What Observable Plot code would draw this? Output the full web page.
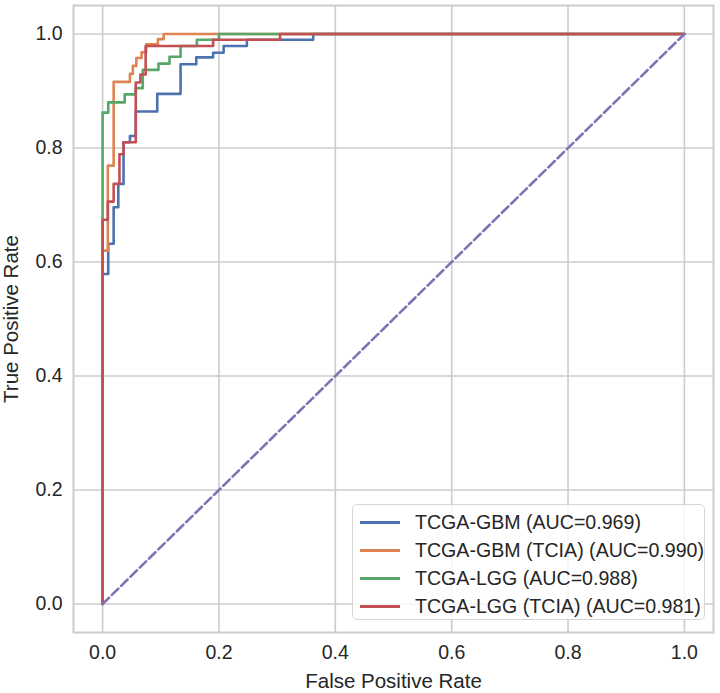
<!DOCTYPE html>
<html>
<head>
<meta charset="utf-8">
<script src="https://cdn.jsdelivr.net/npm/d3@7"></script>
<script src="https://cdn.jsdelivr.net/npm/@observablehq/plot@0.6"></script>
<style>
  html, body { margin: 0; padding: 0; background: #ffffff; }
  #wrap { position: relative; width: 720px; height: 693px; font-family: "Liberation Sans", Arial, sans-serif; }
  #legend {
    position: absolute; left: 352px; top: 504px; width: 353px; height: 116px;
    box-sizing: border-box; border: 1px solid #d6d6d6; border-radius: 5px;
    background: rgba(255, 255, 255, 0.8); padding: 4px 0 0 7px;
  }
  .row { display: flex; align-items: center; height: 27.8px; }
  .swatch { width: 40px; height: 0; border-top: 3px solid; margin-right: 15px; }
  .lab { font-size: 19.6px; color: #262626; white-space: nowrap; }
</style>
</head>
<body>
<div id="wrap"></div>
<script>
// ROC curves for the four cohorts (false positive rate, true positive rate)
const seriesNames = ["TCGA-GBM", "TCGA-GBM (TCIA)", "TCGA-LGG", "TCGA-LGG (TCIA)"];
const aucValues = [0.969, 0.990, 0.988, 0.981];
const seriesColors = ["#4c72b0", "#dd8452", "#55a868", "#c44e52"];

const gbmFpr = [0, 0, 0.0097, 0.0097, 0.019, 0.019, 0.027, 0.027, 0.036, 0.036, 0.047, 0.047, 0.057, 0.057, 0.094, 0.094, 0.134, 0.134, 0.161, 0.161, 0.19, 0.19, 0.208, 0.208, 0.248, 0.248, 0.362, 0.362, 1];
const gbmTpr = [0, 0.579, 0.579, 0.632, 0.632, 0.696, 0.696, 0.737, 0.737, 0.81, 0.81, 0.821, 0.821, 0.864, 0.864, 0.895, 0.895, 0.947, 0.947, 0.959, 0.959, 0.967, 0.967, 0.979, 0.979, 0.99, 0.99, 1, 1];

const gbmTciaFpr = [0, 0, 0.009, 0.009, 0.019, 0.019, 0.047, 0.047, 0.052, 0.052, 0.058, 0.058, 0.067, 0.067, 0.075, 0.075, 0.095, 0.095, 0.105, 0.105, 1];
const gbmTciaTpr = [0, 0.62, 0.62, 0.769, 0.769, 0.916, 0.916, 0.93, 0.93, 0.944, 0.944, 0.958, 0.958, 0.968, 0.968, 0.982, 0.982, 0.991, 0.991, 1, 1];

const lggFpr = [0, 0, 0.0097, 0.0097, 0.038, 0.038, 0.057, 0.057, 0.069, 0.069, 0.096, 0.096, 0.115, 0.115, 0.134, 0.134, 0.162, 0.162, 0.2, 0.2, 1];
const lggTpr = [0, 0.862, 0.862, 0.88, 0.88, 0.894, 0.894, 0.905, 0.905, 0.937, 0.937, 0.948, 0.948, 0.96, 0.96, 0.979, 0.979, 0.99, 0.99, 1, 1];

const lggTciaFpr = [0, 0, 0.009, 0.009, 0.019, 0.019, 0.029, 0.029, 0.036, 0.036, 0.057, 0.057, 0.065, 0.065, 0.074, 0.074, 0.19, 0.19, 0.305, 0.305, 1];
const lggTciaTpr = [0, 0.674, 0.674, 0.706, 0.706, 0.737, 0.737, 0.789, 0.789, 0.81, 0.81, 0.915, 0.915, 0.929, 0.929, 0.979, 0.979, 0.99, 0.99, 1, 1];

const chanceLine = [0, 1];
const axisTicks = [0, 0.2, 0.4, 0.6, 0.8, 1.0];

const curves = [[gbmFpr, gbmTpr], [gbmTciaFpr, gbmTciaTpr], [lggFpr, lggTpr], [lggTciaFpr, lggTciaTpr]];
const rows = curves.flatMap(([fx, ty], i) =>
  fx.map((f, j) => ({series: seriesNames[i], fpr: f, tpr: ty[j]})));
const chance = chanceLine.map(v => ({fpr: v, tpr: v}));
const fmt = d3.format(".1f");

const grid = "#cccccc";
const chart = Plot.plot({
  width: 720,
  height: 693,
  marginLeft: 73,
  marginRight: 7,
  marginTop: 5,
  marginBottom: 61,
  style: {fontFamily: "'Liberation Sans', Arial, sans-serif", fontSize: "19.5px", color: "#262626", background: "#ffffff"},
  x: {domain: [-0.05, 1.05]},
  y: {domain: [-0.05, 1.05]},
  color: {domain: seriesNames, range: seriesColors},
  marks: [
    Plot.gridX(axisTicks, {stroke: grid, strokeOpacity: 1, strokeWidth: 1.6}),
    Plot.gridY(axisTicks, {stroke: grid, strokeOpacity: 1, strokeWidth: 1.6}),
    Plot.frame({stroke: grid, strokeWidth: 2}),
    Plot.axisX(axisTicks, {tickSize: 0, tickPadding: 13, tickFormat: fmt, fontSize: 19.5, label: null}),
    Plot.axisX({ticks: [], label: "False Positive Rate", labelAnchor: "center", labelOffset: 55,
      labelArrow: "none", fontSize: 20.5}),
    Plot.axisY(axisTicks, {tickSize: 0, tickPadding: 11, tickFormat: fmt, fontSize: 19.5, label: null}),
    Plot.axisY({ticks: [], label: "True Positive Rate", labelAnchor: "center", labelOffset: 70,
      labelArrow: "none", fontSize: 20.5}),
    Plot.line(rows, {x: "fpr", y: "tpr", z: "series", stroke: "series", strokeWidth: 2.6}),
    Plot.line(chance, {x: "fpr", y: "tpr", stroke: "#8172b3", strokeWidth: 2.6, strokeDasharray: "9,4"})
  ]
});

const wrap = document.getElementById("wrap");
wrap.appendChild(chart);

// Legend box listing each curve with its AUC
const legend = document.createElement("div");
legend.id = "legend";
seriesNames.forEach((name, i) => {
  const row = document.createElement("div");
  row.className = "row";
  const sw = document.createElement("span");
  sw.className = "swatch";
  sw.style.borderTopColor = seriesColors[i];
  const lab = document.createElement("span");
  lab.className = "lab";
  lab.textContent = `${name} (AUC=${aucValues[i].toFixed(3)})`;
  row.appendChild(sw);
  row.appendChild(lab);
  legend.appendChild(row);
});
wrap.appendChild(legend);
</script>
</body>
</html>
